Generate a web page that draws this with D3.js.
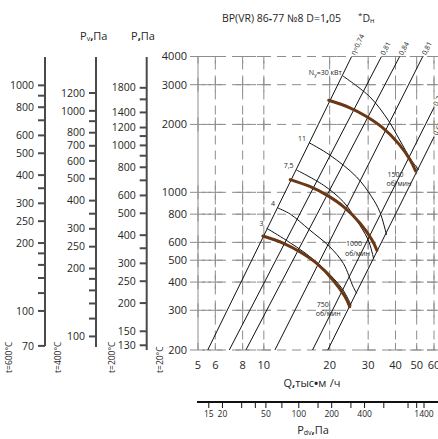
<!DOCTYPE html>
<html><head><meta charset="utf-8">
<script src="https://cdn.jsdelivr.net/npm/d3@7"></script>
<style>
html,body{margin:0;padding:0;background:#fff;}
svg{display:block;font-family:"Open Sans",sans-serif;}
</style></head><body>
<svg id="chart" width="438" height="439"></svg>
<script>
// Axes of the main field: flow Q (thousand m3/h) and total pressure P (Pa)
const qTicks = [5, 6, 8, 10, 20, 30, 40, 50, 60];
const qGrid = [6, 8, 10, 20, 30, 40, 50, 60];
const pTicks = [200, 300, 400, 500, 600, 800, 1000, 2000, 3000, 4000];

// Fan characteristics (Q, P) at constant speed
const speed750 = [[9.9, 640], [12.3, 594], [14.6, 545], [17.4, 485], [20.7, 409], [23.5, 345], [24.7, 311]];
const speed1000 = [[13.2, 1138], [16.4, 1056], [19.5, 969], [23.2, 862], [27.6, 727], [31.3, 613], [32.9, 553]];
const speed1500 = [[19.8, 2560], [24.6, 2376], [29.2, 2180], [34.8, 1940], [41.5, 1636], [46.9, 1380], [49.4, 1244]];

// Constant shaft power lines, kW
const power3 = [[10.3, 693], [12.7, 612], [15.7, 532], [19.3, 448], [22.9, 372], [25.1, 315]];
const power4 = [[11.6, 852], [13.2, 801], [16.2, 681], [20.0, 574], [23.1, 484], [25.6, 382], [26.6, 356]];
const power75 = [[14.1, 1256], [18.7, 1077], [23.1, 908], [26.5, 754], [30.0, 615], [31.8, 506]];
const power11 = [[16.1, 1659], [20.0, 1464], [26.5, 1172], [31.1, 956], [33.9, 820], [36.4, 647]];
const power30 = [[23.0, 3277], [30.5, 2653], [37.0, 2091], [41.8, 1706], [47.2, 1391], [51.1, 1257]];

// Efficiency rays P ~ Q^2 (bottom end, top end) and their labels
const etaLines = [[[5.54, 200], [25.2, 4000]], [[6.95, 200], [34.5, 4000]], [[8.28, 200], [41.8, 4000]],
                  [[11.24, 200], [53.3, 4000]], [[16.7, 200], [60, 2380]], [[19.6, 200], [60, 1760]]];
const etaLabels = ["η=0,74", "0,81", "0,84", "0,81", "0,74", "0,65"];

// Pressure scales for gas temperatures (values in Pa at that temperature)
const temps = [600, 400, 200];
const t600Major = [1000, 800, 600, 500, 400, 300, 250, 200, 100, 70];
const t600Minor = [900, 700, 350, 180, 160, 140, 120];
const t400Major = [1200, 1000, 800, 700, 600, 500, 400, 300, 250, 200, 100];
const t400Minor = [900, 350, 180, 160, 140, 120];
const t200Major = [1800, 1400, 1200, 1000, 800, 600, 500, 400, 300, 250, 200, 150, 130];
const t200Minor = [1600, 1100, 900, 700, 350];

// Dynamic pressure scale
const pdvTicks = [15, 20, 30, 40, 50, 70, 100, 150, 200, 300, 400, 600, 1000, 1200, 1400];
const pdvLabels = [15, 20, 50, 100, 200, 400, 1400];

const svg = d3.select("#chart");
const x = d3.scaleLog().domain([5, 60]).range([198, 434]);
const y = d3.scaleLog().domain([200, 4000]).range([350, 56.5]);
const pdv = d3.scaleLog().domain([15, 1400]).range([208.8, 424]);
const txt = "#262626";
const gridCol = "#8d8d8d";
const brown = "#6b3815";

// ---- grid ----
const grid = svg.append("g").attr("stroke", gridCol).attr("fill", "none").attr("stroke-width", 1);
grid.selectAll(null).data(pTicks).join("line")
  .attr("x1", x(5)).attr("x2", 438).attr("y1", d => y(d)).attr("y2", d => y(d))
  .attr("stroke-dasharray", "9,6").attr("stroke-dashoffset", -4);
grid.selectAll(null).data(qGrid).join("line")
  .attr("x1", d => x(d)).attr("x2", d => x(d)).attr("y1", y(4000)).attr("y2", y(200))
  .attr("stroke-dasharray", "9,6").attr("stroke-dashoffset", -4);
const crossPts = [];
[5, ...qGrid].forEach(q => pTicks.forEach(p => crossPts.push([q, p])));
grid.selectAll(null).data(crossPts).join("line")
  .attr("x1", d => d[0] === 5 ? x(d[0]) - 8 : x(d[0]) - 7)
  .attr("x2", d => x(d[0]) + 7)
  .attr("y1", d => y(d[1])).attr("y2", d => y(d[1]));
grid.selectAll(null).data(crossPts).join("line")
  .attr("x1", d => x(d[0])).attr("x2", d => x(d[0]))
  .attr("y1", d => Math.max(y(4000), y(d[1]) - 7))
  .attr("y2", d => Math.min(y(200), y(d[1]) + 7));
grid.append("line").attr("x1", x(5)).attr("x2", x(5)).attr("y1", y(4000)).attr("y2", y(200));

// ---- main axis labels ----
svg.append("g").selectAll(null).data(pTicks).join("text")
  .attr("x", x(5) - 11).attr("y", d => y(d)).attr("dy", "0.35em")
  .attr("text-anchor", "end").attr("font-size", 11).attr("fill", txt).text(d => d);
svg.append("g").selectAll(null).data(qTicks).join("text")
  .attr("x", d => x(d)).attr("y", 369)
  .attr("text-anchor", "middle").attr("font-size", 11).attr("fill", txt).text(d => d);

// ---- efficiency rays ----
const straight = d3.line().x(d => x(d[0])).y(d => y(d[1]));
const rays = svg.append("g");
rays.selectAll(null).data(etaLines).join("path")
  .attr("d", straight).attr("fill", "none").attr("stroke", "#111").attr("stroke-width", 1);
rays.selectAll(null).data(etaLines).join("text")
  .attr("transform", d => {
    const x1 = x(d[0][0]), y1 = y(d[0][1]), x2 = x(d[1][0]), y2 = y(d[1][1]);
    const a = Math.atan2(y2 - y1, x2 - x1) * 180 / Math.PI;
    return `translate(${x2 + 1},${y2 - 2}) rotate(${a})`;
  })
  .attr("font-size", 7).attr("fill", txt).attr("dy", "0.35em")
  .text((d, i) => etaLabels[i]);

// ---- power lines ----
const smooth = d3.line().x(d => x(d[0])).y(d => y(d[1])).curve(d3.curveCatmullRom.alpha(0.5));
const powerSets = [[power3, "3"], [power4, "4"], [power75, "7,5"], [power11, "11"], [power30, null]];
const pw = svg.append("g");
pw.selectAll(null).data(powerSets).join("path")
  .attr("d", d => smooth(d[0])).attr("fill", "none").attr("stroke", "#111").attr("stroke-width", 1);
pw.selectAll(null).data(powerSets.filter(d => d[1])).join("text")
  .attr("x", d => x(d[0][0][0]) - 3).attr("y", d => y(d[0][0][1]) - 2)
  .attr("text-anchor", "end").attr("font-size", 7).attr("fill", txt).text(d => d[1]);
const nLab = pw.append("text")
  .attr("x", x(power30[0][0]) - 1).attr("y", y(power30[0][1]) - 1)
  .attr("text-anchor", "end").attr("font-size", 7).attr("fill", txt);
nLab.append("tspan").text("N");
nLab.append("tspan").attr("font-size", 5).attr("dy", 1.5).text("у");
nLab.append("tspan").attr("dy", -1.5).text("=30 кВт");

// ---- fan curves ----
const speeds = [[speed750, "750", -33, 0], [speed1000, "1000", -31, -4], [speed1500, "1500", -28, 6]];
const sp = svg.append("g");
sp.selectAll(null).data(speeds).join("path")
  .attr("d", d => smooth(d[0])).attr("fill", "none").attr("stroke", brown).attr("stroke-width", 3)
  .attr("stroke-linecap", "round");
speeds.forEach(([pts, lab, dx, dy]) => {
  const ex = x(pts[pts.length - 1][0]), ey = y(pts[pts.length - 1][1]);
  sp.append("text").attr("x", ex + dx).attr("y", ey + dy).attr("font-size", 7).attr("fill", txt).text(lab);
  sp.append("text").attr("x", ex + dx - 1).attr("y", ey + dy + 9.5).attr("font-size", 7).attr("fill", txt).text("об/мин");
});

// ---- temperature pressure scales ----
const axX = [45, 96, 146.7];
const majors = [t600Major, t400Major, t200Major];
const minors = [t600Minor, t400Minor, t200Minor];
temps.forEach((t, i) => {
  const conv = v => y(v * (273 + t) / 293);
  const g = svg.append("g");
  const yb = i === 0 ? conv(70) : (i === 1 ? 347 : 350);
  g.append("line").attr("x1", axX[i]).attr("x2", axX[i]).attr("y1", 57).attr("y2", yb)
    .attr("stroke", "#4a4a4a").attr("stroke-width", 2);
  g.selectAll(null).data(majors[i].concat(minors[i])).join("line")
    .attr("x1", axX[i] - 7).attr("x2", axX[i]).attr("y1", conv).attr("y2", conv)
    .attr("stroke", "#4a4a4a").attr("stroke-width", 2);
  g.selectAll(null).data(majors[i]).join("text")
    .attr("x", axX[i] - 11).attr("y", conv).attr("dy", "0.35em").attr("text-anchor", "end")
    .attr("font-size", 10.5).attr("fill", txt).text(d => d);
});
const tempNames = ["t=600°C", "t=400°C", "t=200°C", "t=20°C"];
const tempX = [11.5, 60.5, 115, 163];
svg.append("g").selectAll(null).data(tempNames).join("text")
  .attr("transform", (d, i) => `translate(${tempX[i]},373) rotate(-90)`)
  .attr("font-size", 8.5).attr("fill", txt).text(d => d);

// axis titles over the scales
const pv = svg.append("text").attr("x", 80).attr("y", 40).attr("font-size", 11).attr("fill", txt);
pv.append("tspan").text("P");
pv.append("tspan").attr("font-size", 7).attr("dy", 1).text("v");
pv.append("tspan").attr("dy", -1).attr("font-weight", "bold").text(",");
pv.append("tspan").text("Па");
const pp = svg.append("text").attr("x", 131).attr("y", 40).attr("font-size", 11).attr("fill", txt);
pp.append("tspan").text("P");
pp.append("tspan").attr("font-weight", "bold").text(",");
pp.append("tspan").text("Па");

// ---- title ----
const title = svg.append("text").attr("x", 222).attr("y", 22).attr("font-size", 10.5).attr("fill", txt);
title.append("tspan").text("BP(VR) 86");
title.append("tspan").attr("font-weight", "bold").text("-");
title.append("tspan").text("77 №8 D=1");
title.append("tspan").attr("font-weight", "bold").text(",");
title.append("tspan").text("05");
const dn = svg.append("text").attr("x", 358).attr("y", 22).attr("font-size", 10.5).attr("fill", txt);
dn.append("tspan").attr("font-size", 8).attr("dy", -4).text("*");
dn.append("tspan").attr("dy", 4).text("D");
dn.append("tspan").attr("font-size", 7).attr("dy", 1).text("н");

// ---- Q axis title ----
const qt = svg.append("text").attr("x", 312).attr("y", 387).attr("text-anchor", "middle")
  .attr("font-size", 11).attr("fill", txt);
qt.append("tspan").text("Q");
qt.append("tspan").attr("font-weight", "bold").text(",");
qt.append("tspan").text("тыс");
qt.append("tspan").attr("font-weight", "bold").text("•");
qt.append("tspan").text("м");
qt.append("tspan").attr("font-size", 6).attr("dy", -4).attr("fill", "#fff").text("3");
qt.append("tspan").attr("dy", 4).text("/ч");

// ---- dynamic pressure axis ----
const pd = svg.append("g");
pd.append("line").attr("x1", 197).attr("x2", 438).attr("y1", 402).attr("y2", 402)
  .attr("stroke", "#111").attr("stroke-width", 2);
pd.selectAll(null).data(pdvTicks).join("line")
  .attr("x1", d => pdv(d)).attr("x2", d => pdv(d)).attr("y1", 402).attr("y2", 408)
  .attr("stroke", "#111").attr("stroke-width", 1);
pd.selectAll(null).data(pdvLabels).join("text")
  .attr("x", d => pdv(d)).attr("y", 417).attr("text-anchor", "middle")
  .attr("font-size", 8.5).attr("fill", txt).text(d => d);
const pdt = svg.append("text").attr("x", 313).attr("y", 434).attr("text-anchor", "middle")
  .attr("font-size", 11).attr("fill", txt);
pdt.append("tspan").text("P");
pdt.append("tspan").attr("font-size", 7).attr("dy", 1).text("dv");
pdt.append("tspan").attr("dy", -1).attr("font-weight", "bold").text(",");
pdt.append("tspan").text("Па");
</script>
</body></html>
